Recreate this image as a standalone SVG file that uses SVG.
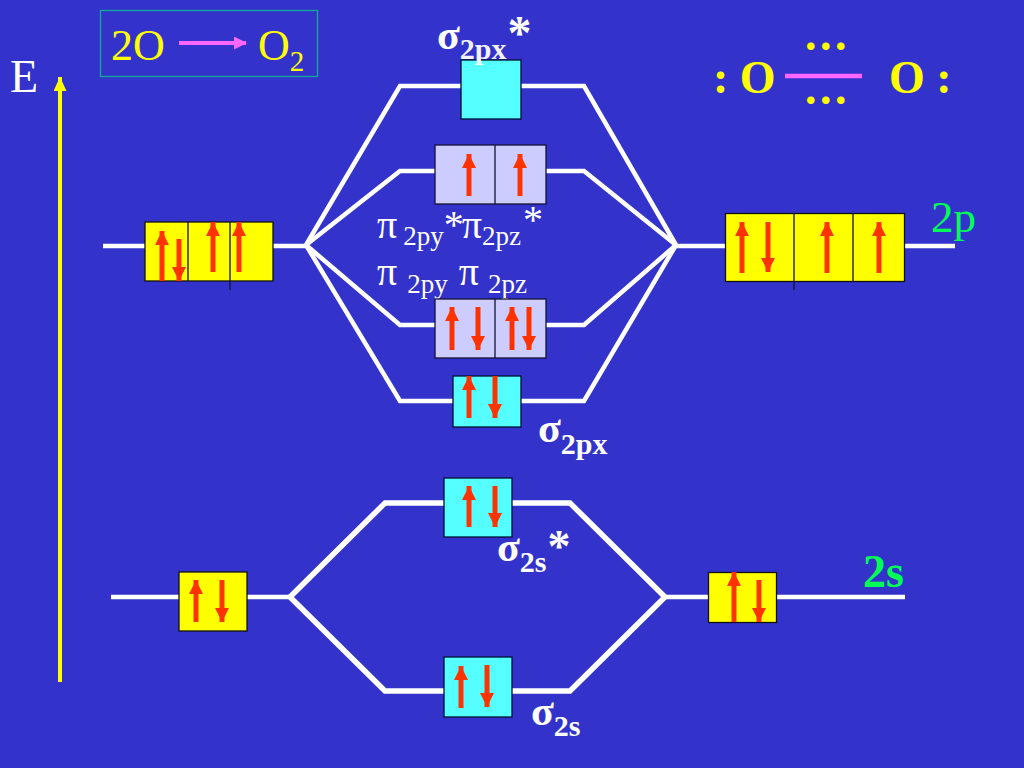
<svg xmlns="http://www.w3.org/2000/svg" width="1024" height="768" viewBox="0 0 1024 768">
<style>
.t{font-family:"Liberation Serif","Times New Roman",serif}
.w{fill:#fff}.y{fill:#ff0}.g{fill:#0f5}
.b{font-weight:bold}
.l{fill:none;stroke:#fff;stroke-width:4.500;stroke-linejoin:miter}
.l2{fill:none;stroke:#fff;stroke-width:5.500}
.ye{fill:#ff0;stroke:#111;stroke-width:1.300}
.cy{fill:#5ff;stroke:#013;stroke-width:1.300}
.la{fill:#ccf;stroke:#113;stroke-width:1.300}
.d{stroke:#113;stroke-width:1.300}
.e{stroke:#f30;stroke-width:5;fill:none}
</style>
<defs>
<marker id="ah" markerUnits="userSpaceOnUse" markerWidth="15" markerHeight="15" refX="14" refY="7" orient="auto"><path d="M0 0L14 7L0 14Z" fill="#f30"/></marker>
<marker id="pk" markerUnits="userSpaceOnUse" markerWidth="13" markerHeight="13" refX="12" refY="6.500" orient="auto"><path d="M0 0L13 6.500L0 13Z" fill="#f6f"/></marker>
<marker id="yl" markerUnits="userSpaceOnUse" markerWidth="15" markerHeight="15" refX="14" refY="6.500" orient="auto"><path d="M0 0L14 6.500L0 13Z" fill="#ff0"/></marker>
</defs>
<rect width="1024" height="768" fill="#3333cc"/>

<g id="connectors">
<path class="l" d="M306 245L400 86H584L676 245"/>
<path class="l" d="M306 245L400 171H584L676 245"/>
<path class="l" d="M306 245L400 325H584L676 245"/>
<path class="l" d="M306 245L400 401H584L676 245"/>
<path class="l" d="M103 246H306M676 246H955"/>
<path class="l" d="M111 597H290M665 597H905"/>
<path class="l2" d="M290 597L385 503H570L665 597L570 691H385L290 597"/>
<path d="M60 682V77" stroke="#ff0" stroke-width="4" fill="none" marker-end="url(#yl)"/>
</g>

<g id="energy-label"><text class="t" x="10" y="92" font-size="46" fill="#fff">E</text></g>

<g id="reaction">
<rect x="100.500" y="10.500" width="217" height="66" fill="none" stroke="#1a9" stroke-width="1.300"/>
<text class="t y" x="111" y="60" font-size="44">2O</text>
<path d="M179 43H246" stroke="#f6f" stroke-width="4" fill="none" marker-end="url(#pk)"/>
<text class="t y" x="258" y="60" font-size="44">O<tspan font-size="29" dy="11">2</tspan></text>
</g>

<g id="sigma-2px-star">
<rect class="cy" x="461" y="60" width="60" height="59"/>
<text class="t w b" x="437" y="49" font-size="42">σ<tspan font-size="30" dy="10" fill-opacity="0.950">2px</tspan><tspan font-size="48" dy="-10" dx="1">*</tspan></text>
</g>

<g id="pi-star">
<rect class="la" x="435" y="145" width="111" height="59"/>
<path class="d" d="M495 145V204"/>
<path class="e" marker-end="url(#ah)" d="M469 196V154"/>
<path class="e" marker-end="url(#ah)" d="M520 196V154"/>
</g>

<g id="pi-labels">
<text class="t w" x="377" y="238" font-size="40">π<tspan font-size="27" dx="6" dy="7">2py</tspan><tspan font-size="40" dy="-7">*</tspan><tspan font-size="40" dx="-2">π</tspan><tspan font-size="27" dy="7">2pz</tspan><tspan font-size="40" dx="2" dy="-12">*</tspan></text>
<text class="t w" x="377" y="285" font-size="40">π<tspan font-size="27" dx="10" dy="8">2py</tspan><tspan font-size="40" dx="11" dy="-8">π</tspan><tspan font-size="27" dx="9" dy="8">2pz</tspan></text>
</g>

<g id="pi-bonding">
<rect class="la" x="435" y="299" width="111" height="59"/>
<path class="d" d="M495 299V358"/>
<path class="e" marker-end="url(#ah)" d="M452 350V307"/>
<path class="e" marker-end="url(#ah)" d="M478 307V350"/>
<path class="e" marker-end="url(#ah)" d="M512 350V307"/>
<path class="e" marker-end="url(#ah)" d="M529 307V350"/>
</g>

<g id="sigma-2px">
<rect class="cy" x="453" y="376" width="68" height="51"/>
<path class="e" marker-end="url(#ah)" d="M469 418V376"/>
<path class="e" marker-end="url(#ah)" d="M495 376V418"/>
<text class="t w b" x="538" y="442" font-size="42">σ<tspan font-size="30" dy="12">2px</tspan></text>
</g>

<g id="left-2p">
<rect class="ye" x="145" y="222" width="128" height="59"/>
<path class="d" d="M188 222V281M230 222V290"/>
<path class="e" marker-end="url(#ah)" d="M162 281V231"/>
<path class="e" marker-end="url(#ah)" d="M179 239V281"/>
<path class="e" marker-end="url(#ah)" d="M213 272V222"/>
<path class="e" marker-end="url(#ah)" d="M239 272V222"/>
</g>

<g id="right-2p">
<rect class="ye" x="725.500" y="213.500" width="179" height="68"/>
<path class="d" d="M794 213V290M853 213V281"/>
<path class="e" marker-end="url(#ah)" d="M742 273V222"/>
<path class="e" marker-end="url(#ah)" d="M768 222V272"/>
<path class="e" marker-end="url(#ah)" d="M827 273V222"/>
<path class="e" marker-end="url(#ah)" d="M879 273V222"/>
<text class="t g" x="931" y="232" font-size="45">2p</text>
</g>

<g id="sigma-2s-star">
<rect class="cy" x="444" y="478" width="68" height="59"/>
<path class="e" marker-end="url(#ah)" d="M469 527V486"/>
<path class="e" marker-end="url(#ah)" d="M495 486V527"/>
<text class="t w b" x="497" y="561" font-size="42">σ<tspan font-size="30" dy="11">2s</tspan><tspan font-size="46" dy="-10" dx="1">*</tspan></text>
</g>

<g id="left-2s">
<rect class="ye" x="179" y="572" width="68" height="59"/>
<path class="e" marker-end="url(#ah)" d="M196 622V580"/>
<path class="e" marker-end="url(#ah)" d="M222 580V622"/>
</g>

<g id="right-2s">
<rect class="ye" x="708.500" y="572.500" width="68" height="50"/>
<path class="e" marker-end="url(#ah)" d="M734 622V572"/>
<path class="e" marker-end="url(#ah)" d="M759 580V622"/>
<text class="t g b" x="863" y="587" font-size="46">2s</text>
</g>

<g id="sigma-2s">
<rect class="cy" x="444" y="657" width="68" height="60"/>
<path class="e" marker-end="url(#ah)" d="M461 708V666"/>
<path class="e" marker-end="url(#ah)" d="M487 665V707"/>
<text class="t w b" x="531" y="725" font-size="42">σ<tspan font-size="30" dy="11">2s</tspan></text>
</g>

<g id="lewis">
<text class="t y b" x="713" y="93" font-size="46">: O</text>
<text class="t y b" x="889" y="93" font-size="46">O :</text>
<path d="M785 76H862" stroke="#f6f" stroke-width="4.500"/>
<text class="t y b" x="805" y="50" font-size="46" letter-spacing="3.500">...</text>
<text class="t y b" x="805" y="104" font-size="46" letter-spacing="3.500">...</text>
</g>
</svg>
